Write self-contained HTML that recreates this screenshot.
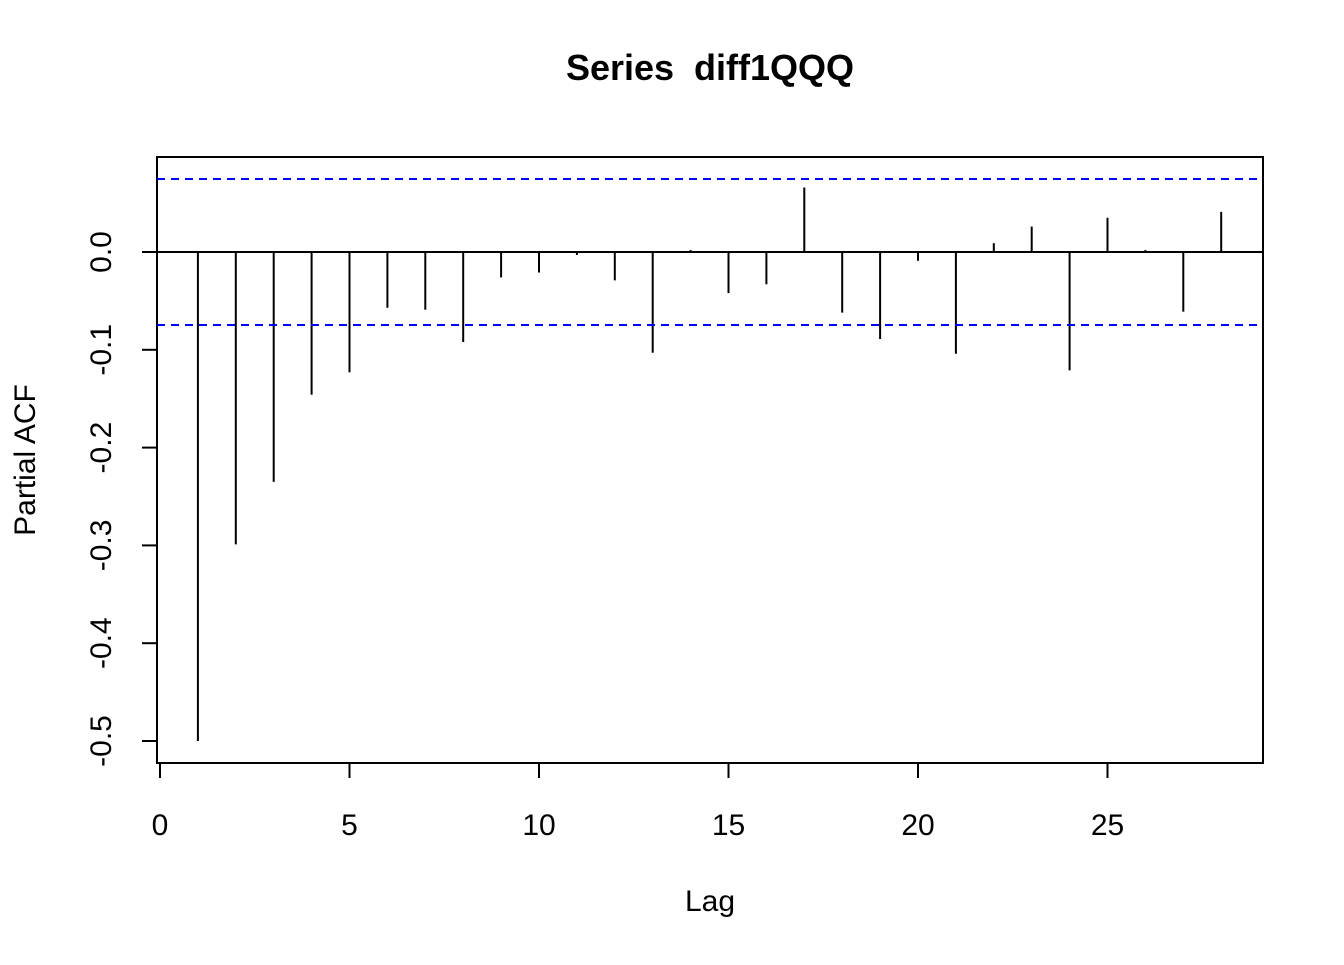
<!DOCTYPE html>
<html><head><meta charset="utf-8"><style>
body{margin:0;background:#fff}
svg text{font-family:"Liberation Sans",Arial,sans-serif;fill:#000}
</style></head><body>
<svg width="1344" height="960" viewBox="0 0 1344 960" xmlns="http://www.w3.org/2000/svg">
<text x="710" y="80" font-size="36" font-weight="bold" text-anchor="middle">Series&#160; diff1QQQ</text>
<rect x="157" y="157" width="1106" height="606" fill="none" stroke="#000" stroke-width="2"/>
<g id="xaxis"></g>
<g id="yaxis"></g>
<g id="bars"></g>
<g id="bands"></g>
<text x="710" y="911" font-size="30" text-anchor="middle">Lag</text>
<text x="0" y="0" font-size="30" text-anchor="middle" transform="translate(35,460) rotate(-90)">Partial ACF</text>
</svg>
<script>
const lags=[1,2,3,4,5,6,7,8,9,10,11,12,13,14,15,16,17,18,19,20,21,22,23,24,25,26,27,28];
const pacf=[-0.500,-0.299,-0.235,-0.146,-0.123,-0.057,-0.059,-0.092,-0.026,-0.021,-0.003,-0.029,-0.103,0.002,-0.042,-0.033,0.066,-0.062,-0.089,-0.009,-0.104,0.009,0.026,-0.121,0.035,0.002,-0.061,0.041];
const xTicks=[0,5,10,15,20,25];
const yTicks=[-0.5,-0.4,-0.3,-0.2,-0.1,0.0];
const yTickLabels=["-0.5","-0.4","-0.3","-0.2","-0.1","0.0"];
const ciBound=[0.0746];
const NS="http://www.w3.org/2000/svg";
const X=v=>160+v*37.9;
const Y=v=>252-v*978;
function mk(t,a,p){const e=document.createElementNS(NS,t);for(const k in a)e.setAttribute(k,a[k]);p.appendChild(e);return e;}
const xa=document.getElementById('xaxis');
mk('line',{x1:X(0),x2:X(25),y1:763,y2:763,stroke:'#000','stroke-width':2},xa);
xTicks.forEach(t=>{
 const l=mk('line',{x1:X(t),x2:X(t),y1:763,y2:778,stroke:'#000','stroke-width':2},xa);
 
 
 const tx=mk('text',{x:X(t),y:835,'font-size':30,'text-anchor':'middle'},xa);tx.textContent=t;
 
 
});
const ya=document.getElementById('yaxis');
mk('line',{x1:157,x2:157,y1:Y(-0.5),y2:Y(0),stroke:'#000','stroke-width':2},ya);
yTicks.forEach((t,i)=>{
 const l=mk('line',{x1:142,x2:157,y1:Y(t),y2:Y(t),stroke:'#000','stroke-width':2},ya);
 
 
 const tx=mk('text',{'font-size':30,'text-anchor':'middle',transform:`translate(111,${Y(t)}) rotate(-90)`},ya);tx.textContent=yTickLabels[i];
 
 
});
const b=document.getElementById('bars');
const z=mk('line',{x1:157,x2:1263,y1:Y(0),y2:Y(0),stroke:'#000','stroke-width':2},b);


lags.forEach((g,i)=>{
 const l=mk('line',{x1:X(g),x2:X(g),y1:Y(0),y2:Y(pacf[i]),stroke:'#000','stroke-width':2},b);
 
 
});
const bd=document.getElementById('bands');
[ciBound[0],-ciBound[0]].forEach(v=>{
 const l=mk('line',{x1:157,x2:1263,y1:Y(v),y2:Y(v),stroke:'#0000ff','stroke-width':2,'stroke-dasharray':'8,6'},bd);
 
 
});
</script>
</body></html>
